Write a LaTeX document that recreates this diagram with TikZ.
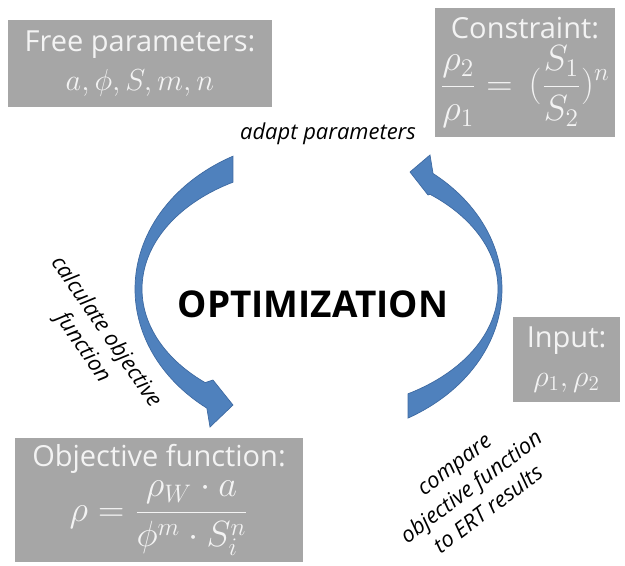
\documentclass[tikz,border=0pt]{standalone}
\usepackage[no-math]{fontspec}
\setmainfont{Open Sans}
\usetikzlibrary{calc}
\definecolor{panelgray}{RGB}{166,166,166}
\definecolor{paneltext}{RGB}{243,243,243}
\definecolor{loopblue}{RGB}{79,129,189}
\definecolor{loopedge}{RGB}{62,106,162}
\tikzset{
  panel/.style={fill=panelgray,text=paneltext,align=center,inner sep=0pt,
    font=\fontsize{16.5}{21}\selectfont},
  steplabel/.style={font=\itshape\fontsize{12.5}{16}\selectfont,align=center},
  looparrow/.style={fill=loopblue,draw=loopedge,line width=0.4pt}
}
\begin{document}
\begin{tikzpicture}[x=0.02cm,y=-0.02cm]
        \useasboundingbox (0,0) rectangle (625,565);
        \coordinate (hub) at (318,289);
        % grey panels
        \node[panel,minimum width=5.28cm,minimum height=1.74cm] (free) at (140,63.5)
          {Free parameters:\\[1pt] {\fontsize{18}{22}\selectfont$a,\phi,S,m,n$}};
        \node[panel,minimum width=3.6cm,minimum height=2.58cm] (constraint) at (525,72.5)
          {Constraint:\\[3pt] {\fontsize{21}{24}\selectfont$\displaystyle\frac{\rho_2}{\rho_1}=\,(\frac{S_1}{S_2})^n$}};
        \node[panel,minimum width=2.14cm,minimum height=1.7cm] (input) at (566.5,359.5)
          {Input:\\[1pt] {\fontsize{18}{22}\selectfont$\rho_1,\rho_2$}};
        \node[panel,minimum width=5.76cm,minimum height=2.48cm] (objective) at (159,500)
          {Objective function:\\[3pt] {\fontsize{20}{24}\selectfont$\displaystyle\rho=\frac{\rho_W\cdot a}{\phi^m\cdot S_i^n}$}};
        % the loop
        \filldraw[looparrow] ($(hub)+(-117.7:183 and 150)$)
          arc[start angle=-117.7,end angle=-232.6,x radius=183,y radius=150]
          -- (210,427) -- (233,405) -- (213,380)
          -- ($(hub)+(-230.1:176 and 122)$)
          arc[start angle=-230.1,end angle=-118.9,x radius=176,y radius=122] -- cycle;
        \filldraw[looparrow] ($(hub)+(60.7:184 and 148)$)
          arc[start angle=60.7,end angle=-51.3,x radius=184,y radius=148]
          -- (430,155) -- (410,172) -- (428,195)
          -- ($(hub)+(-51.5:180 and 121)$)
          arc[start angle=-51.5,end angle=60,x radius=180,y radius=121] -- cycle;
        \node[font=\bfseries\fontsize{21}{25}\selectfont] (opt) at (313,304) {OPTIMIZATION};
        \node[steplabel] (adapt) at (328,134) {adapt parameters};
        \node[steplabel,rotate=-55.5] (calc) at (94,340) {calculate objective\\function};
        \node[steplabel,rotate=37] (compare) at (472,488) {compare\\objective function\\to ERT results};
      \end{tikzpicture}
\end{document}
